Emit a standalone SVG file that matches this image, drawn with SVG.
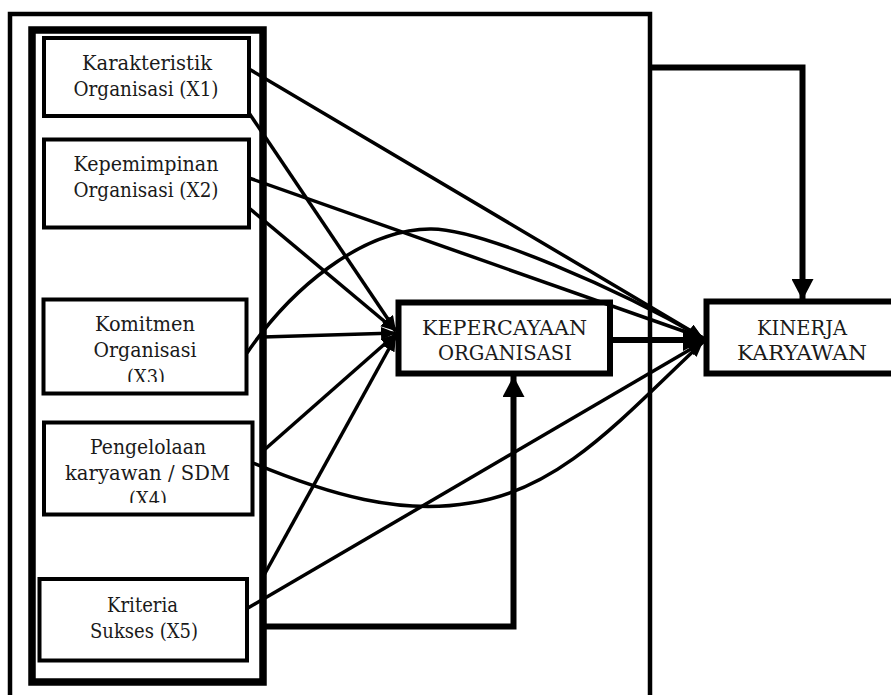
<svg xmlns="http://www.w3.org/2000/svg" width="891" height="695" viewBox="0 0 891 695">
<style>
  .box{fill:#fff;stroke:#000;stroke-width:4}
  .bigbox{fill:#fff;stroke:#000;stroke-width:6}
  .t{font-family:"DejaVu Serif","Liberation Serif",serif;font-size:21px;fill:#1a1a1a;text-anchor:middle}
  .ln{fill:none;stroke:#000;stroke-width:3.5}
  .thick{fill:none;stroke:#000;stroke-width:6}
</style>
<defs>
  <marker id="ah" markerUnits="userSpaceOnUse" markerWidth="15" markerHeight="13" refX="15" refY="6.5" orient="auto">
    <path d="M0,0 L15,6.5 L0,13 z" fill="#000"/>
  </marker>
  <marker id="ahb" markerUnits="userSpaceOnUse" markerWidth="21" markerHeight="22" refX="21" refY="11" orient="auto">
    <path d="M0,0 L21,11 L0,22 z" fill="#000"/>
  </marker>
  <clipPath id="c3"><rect x="44" y="300" width="202" height="82"/></clipPath>
  <clipPath id="c4"><rect x="44" y="423" width="208" height="80"/></clipPath>
</defs>
<rect width="891" height="695" fill="#fff"/>

<g id="frame">
  <path d="M10,700 V14 H650 V700" fill="none" stroke="#000" stroke-width="4.5"/>
  <rect x="32" y="30" width="231" height="652" fill="none" stroke="#000" stroke-width="7.5"/>
</g>

<g id="x1">
  <rect class="box" x="44" y="38" width="205" height="78"/>
  <text class="t" x="147" y="70" textLength="130" lengthAdjust="spacingAndGlyphs">Karakteristik</text>
  <text class="t" x="146" y="96" textLength="145" lengthAdjust="spacingAndGlyphs">Organisasi (X1)</text>
</g>
<g id="x2">
  <rect class="box" x="44" y="139.5" width="205" height="88"/>
  <text class="t" x="146" y="171" textLength="145" lengthAdjust="spacingAndGlyphs">Kepemimpinan</text>
  <text class="t" x="146" y="197" textLength="145" lengthAdjust="spacingAndGlyphs">Organisasi (X2)</text>
</g>
<g id="x3">
  <rect class="box" x="43.5" y="299.5" width="203" height="94"/>
  <g clip-path="url(#c3)">
    <text class="t" x="145" y="331" textLength="100" lengthAdjust="spacingAndGlyphs">Komitmen</text>
    <text class="t" x="145" y="357" textLength="103" lengthAdjust="spacingAndGlyphs">Organisasi</text>
    <text class="t" x="146" y="384" textLength="38" lengthAdjust="spacingAndGlyphs">(X3)</text>
  </g>
</g>
<g id="x4">
  <rect class="box" x="44" y="422.5" width="208.5" height="92"/>
  <g clip-path="url(#c4)">
    <text class="t" x="148" y="454" textLength="116" lengthAdjust="spacingAndGlyphs">Pengelolaan</text>
    <text class="t" x="147.5" y="480" textLength="165" lengthAdjust="spacingAndGlyphs">karyawan / SDM</text>
    <text class="t" x="148" y="506" textLength="38" lengthAdjust="spacingAndGlyphs">(X4)</text>
  </g>
</g>
<g id="x5">
  <rect class="box" x="39.5" y="579" width="207.5" height="81.5"/>
  <text class="t" x="142.5" y="612" textLength="71" lengthAdjust="spacingAndGlyphs">Kriteria</text>
  <text class="t" x="144" y="638" textLength="108" lengthAdjust="spacingAndGlyphs">Sukses (X5)</text>
</g>
<g id="kepercayaan">
  <rect class="bigbox" x="398.5" y="302.5" width="211.5" height="71"/>
  <text class="t" x="504.5" y="335" textLength="165" lengthAdjust="spacingAndGlyphs">KEPERCAYAAN</text>
  <text class="t" x="505" y="360" textLength="134" lengthAdjust="spacingAndGlyphs">ORGANISASI</text>
</g>
<g id="kinerja">
  <rect class="bigbox" x="706.5" y="301.5" width="200" height="72"/>
  <text class="t" x="802" y="335" textLength="90" lengthAdjust="spacingAndGlyphs">KINERJA</text>
  <text class="t" x="802" y="360" textLength="130" lengthAdjust="spacingAndGlyphs">KARYAWAN</text>
</g>

<g id="connectors">
  <path class="ln" d="M249,69 L703,338" marker-end="url(#ah)"/>
  <path class="ln" d="M249,113 L396,331" marker-end="url(#ah)"/>
  <path class="ln" d="M249,178 L703,338" marker-end="url(#ah)"/>
  <path class="ln" d="M249,208 L396,331" marker-end="url(#ah)"/>
  <path class="ln" d="M247,353 C290,290 360,230 430,229 C480,228 620,290 703,338" marker-end="url(#ah)"/>
  <path class="ln" d="M263,337 L396,333" marker-end="url(#ah)"/>
  <path class="ln" d="M263,451 L396,334" marker-end="url(#ah)"/>
  <path class="ln" d="M253,463 C330,495 400,515 470,503 C560,490 620,420 703,342" marker-end="url(#ah)"/>
  <path class="ln" d="M263,577 L396,336" marker-end="url(#ah)"/>
  <path class="ln" d="M248,608 L703,342" marker-end="url(#ah)"/>
  <path class="thick" d="M610,340 L704,340" stroke-width="7" marker-end="url(#ahb)"/>
  <path class="thick" d="M650,67.5 H802.5 V300" stroke-width="5" marker-end="url(#ahb)"/>
  <path class="thick" d="M263,626.5 H513.5 V376" stroke-width="6.5" marker-end="url(#ahb)"/>
</g>
</svg>
